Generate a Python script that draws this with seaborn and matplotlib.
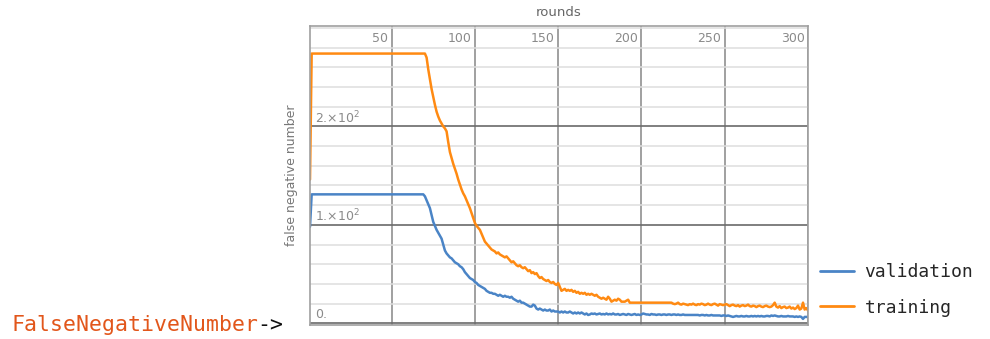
import pandas as pd
import matplotlib.pyplot as plt
import seaborn as sns

# === Données ===
rounds = list(range(1, 301))

validation = (
    [98]
    + [131] * 68
    + [129, 125, 121, 117, 110, 103, 99, 95, 92, 89,
       86, 80, 74, 71, 69, 67, 66, 64, 62, 61,
       60, 58, 57, 55, 52, 50, 48, 46, 45, 44,
       42, 41, 39, 38, 37, 36, 35, 33, 32, 31,
       31, 30, 30, 29, 28, 29, 28, 27, 28, 27,
       27, 26, 27, 25, 24, 23, 22, 23, 21, 21,
       20, 19, 18, 17, 17, 19, 18, 15, 14, 15,
       14, 13, 14, 13, 13, 14, 12, 13, 12, 12,
       12, 11, 12, 11, 12, 11, 11, 12, 11, 10,
       11, 10, 11, 10, 11, 10, 9, 10, 8.5, 9,
       10, 9.5, 10, 9, 9.5, 10, 9, 9.5, 9, 10,
       9, 9.5, 9, 10, 9, 9, 9.5, 8.5, 9, 9.5,
       9, 8.5, 9.5, 9, 8.5, 9, 9.5, 8.5, 9, 8.5,
       9, 10, 9.5, 9, 9, 8.5, 9.5, 9, 9, 8.5,
       9, 9, 8.5, 9, 9, 8.5, 9, 9, 8.5, 9,
       9, 8.5, 9, 8.5, 8.5, 9, 8.5, 8.5, 8.5, 8.5,
       8.5, 8.5, 8.5, 8.5, 8.5, 8, 8.5, 8.5, 8, 8.5,
       8, 8, 8.5, 8, 8, 8, 8, 8, 7.5, 8,
       8, 7.5, 8, 7.5, 7, 6.5, 7, 7.5, 7, 7,
       7.5, 7, 7, 7.5, 7, 7, 7.5, 7, 7.5, 7,
       7.5, 7, 7.5, 7, 7, 7.5, 7.5, 7, 8, 7.5,
       8, 7.5, 7, 7, 7.5, 7, 7, 7, 7.5, 7,
       7, 7, 6.5, 7, 6.5, 7, 6.5, 4.5, 6.5, 6.5,
       6.5]
)

training = (
    [146]
    + [274] * 69
    + [270, 258, 248, 238, 230, 222, 215, 210, 206, 203,
       200, 198, 195, 184, 174, 168, 162, 157, 152, 146,
       141, 136, 132, 129, 125, 121, 117, 112, 107, 102,
       99, 97, 95, 91, 87, 83, 81, 79, 77, 75,
       74, 73, 71, 72, 70, 69, 68, 67, 68, 66,
       64, 62, 63, 61, 59, 58, 59, 57, 56, 57,
       55, 53, 54, 51, 52, 50, 51, 48, 46, 47,
       45, 44, 43, 44, 42, 41, 42, 40, 39, 41,
       37, 33, 34, 35, 33, 34, 33, 34, 32, 33,
       31, 32, 30, 31, 30, 31, 29, 30, 29, 30,
       29, 28, 29, 27, 26, 25, 26, 25, 24, 27,
       25, 22, 23, 24, 23, 25, 24, 22, 22, 22,
       23, 24, 21, 21, 21, 21, 21, 21, 21, 21,
       21, 21, 21, 21, 21, 21, 21, 21, 21, 21,
       21, 21, 21, 21, 21, 21, 21, 21, 20, 19.5,
       20, 21, 19.5, 19, 20, 19.5, 19, 18.5, 19.5, 19,
       20, 19, 18.5, 19.5, 19, 20, 19.5, 18.5, 19, 20,
       19, 18.5, 19.5, 20, 19, 18, 19.5, 19, 18.5, 19,
       19.5, 18.5, 17.5, 18.5, 19, 18, 17.5, 18.5, 17, 18,
       18.5, 17.5, 18, 19, 17.5, 17, 18, 17.5, 16.5, 17.5,
       18, 17, 16.5, 17.5, 18, 17, 16.5, 17, 18.5, 21,
       17, 16, 17.5, 15.5, 16.5, 17, 15.5, 16, 17, 15,
       16, 14.5, 15.5, 18, 14, 15, 21, 14, 15.5, 13]
)

series_names = ["validation", "training"]
x_ticks = [50, 100, 150, 200, 250, 300]
y_ticks = [0, 100, 200]
y_tick_labels = ["0.", r"1.$\times$10$^{2}$", r"2.$\times$10$^{2}$"]
y_minor = [v for v in range(20, 301, 20) if v not in y_ticks]

df = pd.DataFrame({
    "round": rounds * 2,
    "value": validation + training,
    "series": ["validation"] * len(validation) + ["training"] * len(training),
})

# === Style ===
sns.set_theme(style="white")
plt.rcParams["font.family"] = ["DejaVu Sans"]

BLUE = "#4a84c6"
ORANGE = "#ff8a12"
GRID_DARK = "#6a6a6a"
GRID_V = "#a0a0a0"
GRID_LIGHT = "#dedede"
TXT = "#8a8a8a"

fig = plt.figure(figsize=(9.9, 3.39), dpi=100)
ax = fig.add_axes([310 / 990, 1 - 325.3 / 339, 498 / 990, (325.3 - 26) / 339])

sns.lineplot(data=df, x="round", y="value", hue="series", hue_order=series_names,
             palette={"validation": BLUE, "training": ORANGE},
             linewidth=1.8, ax=ax, legend=False)

ax.set_xlim(1, 300)
ax.set_ylim(-2, 302)
ax.set_xticks(x_ticks)
ax.set_yticks(y_ticks)
ax.set_yticks(y_minor, minor=True)
ax.set_xticks([], minor=True)
ax.tick_params(which="both", length=0, labelbottom=False, labelleft=False)
ax.set_xlabel("")
ax.set_ylabel("")
ax.set_axisbelow(True)
ax.yaxis.grid(True, which="minor", color=GRID_LIGHT, lw=1.1)
ax.yaxis.grid(True, which="major", color=GRID_DARK, lw=1.2)
ax.xaxis.grid(True, which="major", color=GRID_V, lw=1.4)
for s in ax.spines.values():
    s.set_color(GRID_V)
    s.set_linewidth(1.2)

# Étiquettes des graduations à l'intérieur du cadre
for xv in x_ticks:
    ax.text(xv - 2, 0.958, str(xv), transform=ax.get_xaxis_transform(),
            ha="right", va="center", fontsize=9, color=TXT)
for yv, lab in zip(y_ticks, y_tick_labels):
    ax.text(4, yv + 9, lab, ha="left", va="center", fontsize=9, color=TXT)

fig.text(559 / 990, 1 - 13 / 339, "rounds", ha="center", va="center", fontsize=9.5, color="#666666")
fig.text(292 / 990, 1 - 175 / 339, "false negative number", ha="center", va="center",
         rotation=90, fontsize=9, color="#777777")

# Légende à droite
handles = [plt.Line2D([], [], color=BLUE, lw=2), plt.Line2D([], [], color=ORANGE, lw=2)]
ax.legend(handles, series_names, loc="center left", bbox_to_anchor=(804 / 990, 1 - 290 / 339),
          bbox_transform=fig.transFigure, frameon=False,
          prop={"family": "DejaVu Sans Mono", "size": 13},
          handlelength=1.85, handletextpad=0.6, labelspacing=0.95)

# Texte à gauche
fig.text(11 / 990, 1 - 325 / 339, "FalseNegativeNumber", ha="left", va="center",
         fontsize=15.5, color="#e2561b", family="DejaVu Sans Mono")
fig.text((11 + 19 * 12.95) / 990, 1 - 325 / 339, "->", ha="left", va="center",
         fontsize=15.5, color="#111111", family="DejaVu Sans Mono")

plt.savefig("out.png", dpi=100)
plt.close()
